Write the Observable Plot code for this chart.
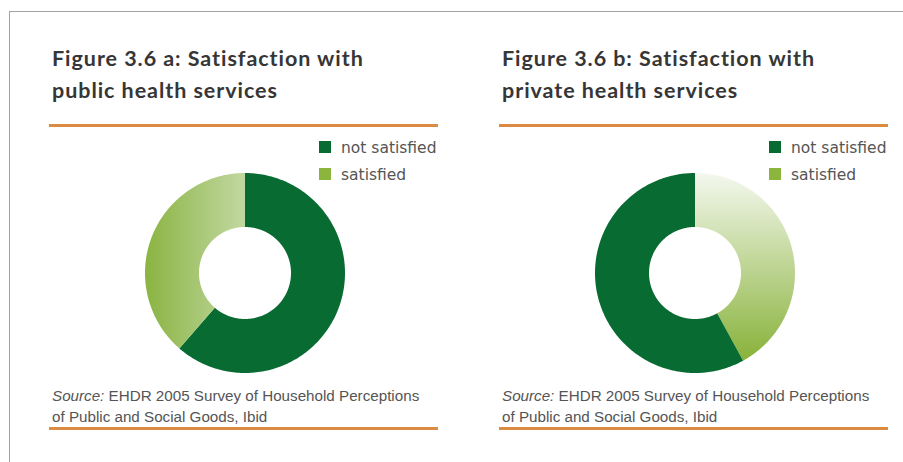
<!DOCTYPE html>
<html>
<head>
<meta charset="utf-8">
<script src="https://cdn.jsdelivr.net/npm/d3@7"></script>
<script src="https://cdn.jsdelivr.net/npm/@observablehq/plot@0.6"></script>
<style>
  body { margin: 0; background: #fff; }
  #page { position: relative; width: 903px; height: 462px; overflow: hidden; background: #fff; }
  .bt { position: absolute; left: 9px; top: 11px; width: 894px; height: 0; border-top: 1.5px solid #a3a3a3; }
  .bl { position: absolute; left: 9px; top: 11px; width: 0; height: 451px; border-left: 1.5px solid #a3a3a3; }
  .title { position: absolute; font-family: Lato, "Open Sans", sans-serif; font-weight: 700; font-size: 21.5px; letter-spacing: 0.95px; line-height: 32px; color: #363636; white-space: nowrap; font-variant-ligatures: none; font-feature-settings: "liga" 0; }
  .rule { position: absolute; height: 3px; background: #dc8c42; }
  .leg { position: absolute; z-index: 2; font-family: "DejaVu Sans", sans-serif; font-size: 15.5px; line-height: 18px; color: #555; white-space: nowrap; }
  .sw { position: absolute; z-index: 2; width: 12px; height: 12px; }
  .source { position: absolute; font-family: "Liberation Sans", Arial, sans-serif; font-size: 15.2px; line-height: 21px; color: #555; white-space: nowrap; }
  .chart { position: absolute; z-index: 1; }
  .chart svg { background: transparent; }
</style>
</head>
<body>
<div id="page">
  <div class="bt"></div>
  <div class="bl"></div>
</div>
<script>
// ---- data ----
const categories = ["not satisfied", "satisfied"];
const publicValues = [61.4, 38.6];   // Figure 3.6 a (%)
const privateValues = [58, 42];      // Figure 3.6 b (%)
const publicOrder = ["not satisfied", "satisfied"];   // clockwise from 12 o'clock
const privateOrder = ["satisfied", "not satisfied"];
const legendColors = ["#086b32", "#8cb53e"];
const titleA = ["Figure 3.6 a: Satisfaction with", "public health services"];
const titleB = ["Figure 3.6 b: Satisfaction with", "private health services"];
const sourceLines = ["EHDR 2005 Survey of Household Perceptions", "of Public and Social Goods, Ibid"];

const innerRatio = 0.46;
const page = document.getElementById("page");
const NS = "http://www.w3.org/2000/svg";

function gradientDefs(id, horizontal, stops) {
  return () => {
    const defs = document.createElementNS(NS, "defs");
    const g = document.createElementNS(NS, "linearGradient");
    g.setAttribute("id", id);
    g.setAttribute("x1", "0"); g.setAttribute("y1", "0");
    g.setAttribute("x2", horizontal ? "1" : "0"); g.setAttribute("y2", horizontal ? "0" : "1");
    stops.forEach(([off, col]) => {
      const s = document.createElementNS(NS, "stop");
      s.setAttribute("offset", off); s.setAttribute("stop-color", col);
      g.appendChild(s);
    });
    defs.appendChild(g);
    return defs;
  };
}

function donut(values, order, fills, defs) {
  const arcs = d3.pie().sort(null).value(d => d.value)(
    order.map(c => ({category: c, value: values[categories.indexOf(c)]}))
  );
  const pts = [];
  for (const a of arcs) {
    const n = 200;
    for (let i = 0; i <= n; i++) {
      const t = a.startAngle + (a.endAngle - a.startAngle) * i / n;
      pts.push({
        category: a.data.category,
        xo: Math.sin(t), yo: Math.cos(t),
        xi: innerRatio * Math.sin(t), yi: innerRatio * Math.cos(t)
      });
    }
  }
  return Plot.plot({
    width: 210, height: 210, margin: 5,
    style: {background: "transparent"},
    x: {domain: [-1, 1], axis: null},
    y: {domain: [-1, 1], axis: null},
    color: {domain: categories, range: fills},
    marks: [
      defs,
      Plot.area(pts, {x1: "xo", y1: "yo", x2: "xi", y2: "yi", z: "category", fill: "category"})
    ]
  });
}

function panel(left, title, values, order, fills, defs) {
  const t = document.createElement("div");
  t.className = "title";
  t.style.left = (left + 2) + "px"; t.style.top = "42px";
  t.innerHTML = title.join("<br>");
  page.appendChild(t);

  const r1 = document.createElement("div");
  r1.className = "rule";
  r1.style.left = (left - 1) + "px"; r1.style.top = "124px"; r1.style.width = "389px";
  page.appendChild(r1);

  const c = document.createElement("div");
  c.className = "chart";
  c.style.left = (left + 90) + "px"; c.style.top = "168px";
  c.appendChild(donut(values, order, fills, defs));
  page.appendChild(c);

  categories.forEach((cat, i) => {
    const sw = document.createElement("div");
    sw.className = "sw";
    sw.style.background = legendColors[i];
    sw.style.left = (left + 269) + "px"; sw.style.top = (141 + 27 * i) + "px";
    page.appendChild(sw);
    const lt = document.createElement("div");
    lt.className = "leg";
    lt.textContent = cat;
    lt.style.left = (left + 291) + "px"; lt.style.top = (138.6 + 27 * i) + "px";
    page.appendChild(lt);
  });

  const s = document.createElement("div");
  s.className = "source";
  s.style.left = (left + 2) + "px"; s.style.top = "385px";
  s.innerHTML = "<i>Source:</i> " + sourceLines[0] + "<br>" + sourceLines[1];
  page.appendChild(s);

  const r2 = document.createElement("div");
  r2.className = "rule";
  r2.style.left = (left - 1) + "px"; r2.style.top = "427px"; r2.style.width = "389px";
  page.appendChild(r2);
}

panel(50, titleA, publicValues, publicOrder, ["#086b32", "url(#gradA)"],
  gradientDefs("gradA", true, [["0", "#8ab442"], ["1", "#c2d8a2"]]));
panel(500, titleB, privateValues, privateOrder, ["#086b32", "url(#gradB)"],
  gradientDefs("gradB", false, [["0", "#f4f8ee"], ["1", "#88b23a"]]));
</script>
</body>
</html>
